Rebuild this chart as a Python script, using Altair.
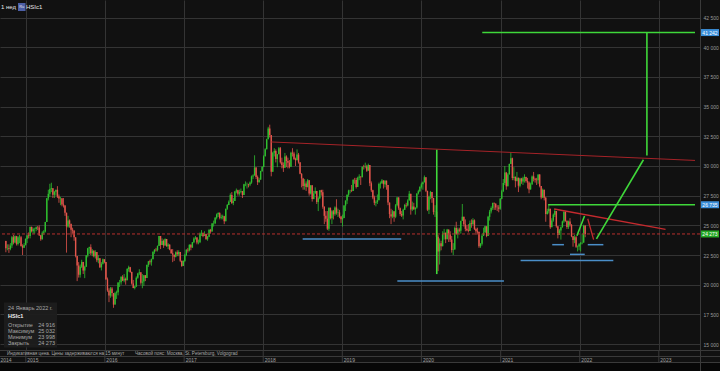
import altair as alt
import pandas as pd

FONT = "Liberation Sans"

# ---------------- weekly OHLC (HSIc1, weeks starting Monday 2014-09-29) -------------
first_open = 23678

close_2014 = [23064, 23088, 23023, 23302, 23998, 23550, 24087, 23437, 23988, 24002, 23250, 23117, 23349, 23857]
high_2014 = [23700, 23400, 23400, 23500, 24100, 24200, 24140, 24110, 24100, 24200, 24100, 23400, 23500, 23900]
low_2014 = [22730, 22900, 22680, 22900, 23100, 23400, 23500, 23300, 23300, 23500, 23200, 22500, 23100, 23300]

close_2015 = [24136, 24103, 24850, 24507, 24679, 24682, 24832, 24823, 24164, 23823, 24375, 24486, 25275, 27273,
              27653, 28060, 28133, 27577, 27822, 27993, 27424, 27260, 27280, 26760, 26663, 26064, 24901, 25415,
              25128, 24636, 24552, 23991, 22410, 21612, 20840, 21504, 21920, 21186, 21506, 22459, 23067, 23151,
              22640, 22867, 22397, 22754, 22068, 22235, 21464, 21756, 22138, 21914]
high_2015 = [24200, 24400, 24900, 24900, 24800, 24800, 24900, 24950, 25000, 24200, 24500, 24600, 25300, 27300,
             28000, 28500, 28590, 28000, 27900, 28000, 28300, 27600, 27400, 27200, 27300, 26700, 25300, 25800,
             25500, 25000, 24800, 24600, 23700, 22000, 21900, 21700, 22100, 21900, 21600, 22500, 23100, 23200,
             23400, 23000, 22900, 22900, 22700, 22500, 22200, 21900, 22200, 22100]
low_2015 = [23500, 23900, 23900, 24400, 24300, 24300, 24500, 24600, 24100, 23700, 23800, 24200, 24400, 25300,
            27100, 27400, 27800, 27300, 27300, 27500, 27300, 26900, 26700, 26600, 26500, 25800, 22700, 24800,
            24800, 24000, 24300, 23700, 22300, 20300, 20600, 20600, 21400, 20900, 20550, 21500, 22300, 22600,
            22500, 22400, 22300, 22200, 21900, 21800, 21400, 21200, 21700, 21800]

close_2016 = [20453, 19520, 19081, 19683, 19289, 18320, 19286, 19364, 20176, 20199, 20672, 20345, 20498, 20370,
              21316, 21467, 21067, 20110, 19719, 19852, 20576, 20947, 21042, 20169, 20259, 20794, 20564, 21659,
              21964, 21891, 22146, 22767, 22937, 22910, 23266, 24099, 23335, 23686, 23297, 23852, 23234, 23375,
              22955, 22643, 22531, 22344, 22723, 22565, 22760, 22020, 21575, 22001]
high_2016 = [21900, 20600, 19700, 19800, 19800, 19300, 19400, 19500, 20200, 20400, 20700, 20800, 20900, 20600,
             21400, 21600, 21500, 21100, 20400, 19900, 20700, 21000, 21300, 20800, 20900, 20800, 20800, 21700,
             22000, 22100, 22200, 22800, 23000, 23100, 23300, 24100, 23800, 23900, 23800, 23900, 23800, 23500,
             23400, 23000, 23000, 22500, 22800, 22900, 22900, 22700, 22000, 22050]
low_2016 = [20400, 19400, 18530, 18900, 19000, 18050, 18900, 18800, 19100, 19800, 20000, 20300, 20200, 20000,
            20400, 21100, 21000, 20000, 19700, 19600, 19800, 20500, 20800, 20000, 19700, 19900, 20300, 20800,
            21500, 21700, 21600, 22200, 22600, 22800, 22800, 23400, 23000, 23500, 23100, 23300, 23200, 23000,
            22900, 22600, 21900, 22000, 22300, 22400, 22400, 21900, 21500, 21600]

close_2017 = [22503, 22938, 22885, 23361, 23129, 23575, 23883, 23966, 23553, 23569, 24310, 24358, 24112, 24267,
              23825, 24042, 24615, 24476, 25156, 25174, 25640, 25925, 26030, 25626, 25671, 25765, 25341, 26389,
              26706, 26979, 27563, 26884, 27048, 27848, 27953, 27668, 27807, 27880, 27554, 28458, 28476, 28487,
              28439, 28604, 29121, 29199, 29866, 29074, 28640, 28848, 29578, 29919]
high_2017 = [22600, 23000, 23100, 23400, 23400, 23600, 24000, 24100, 24000, 23800, 24400, 24600, 24400, 24500,
             24300, 24100, 24700, 24700, 25200, 25400, 25700, 26000, 26100, 26100, 25900, 25900, 25800, 26400,
             26800, 27100, 27700, 27800, 27300, 27900, 28100, 28000, 28000, 28100, 27900, 28500, 28700, 28600,
             28500, 28700, 29200, 29300, 30900, 29900, 29200, 29000, 29600, 30000]
low_2017 = [21900, 22400, 22700, 22800, 22900, 23100, 23500, 23800, 23400, 23400, 23500, 24100, 24000, 24100,
            23800, 23700, 24000, 24300, 24500, 24900, 25100, 25500, 25700, 25500, 25500, 25500, 25100, 25400,
            26300, 26700, 27000, 26800, 26700, 27100, 27700, 27500, 27500, 27700, 27300, 27600, 28300, 28100,
            28200, 28300, 28500, 28900, 29200, 28900, 28400, 28600, 28900, 29500]

close_2018 = [30815, 31413, 32255, 33154, 32602, 29507, 31115, 31268, 30583, 30996, 31502, 30309, 30093, 29844,
              30808, 30418, 30281, 29927, 31122, 31048, 30588, 30492, 30958, 30309, 29339, 28955, 28316, 28525,
              28224, 28804, 27677, 28367, 27213, 27672, 27888, 26973, 27286, 27953, 27788, 26572, 25801, 25561,
              24717, 26486, 25601, 26183, 25927, 26506, 26063, 26094, 25753, 25504, 25626]
high_2018 = [30900, 31500, 32300, 33300, 33480, 32600, 31200, 31500, 31400, 31000, 31600, 31600, 30700, 30300,
             31100, 30900, 30700, 30500, 31200, 31500, 31200, 30700, 31400, 31100, 30300, 29400, 29000, 28900,
             28700, 28900, 28700, 28400, 28300, 27900, 28200, 27900, 27400, 27950, 28000, 28000, 26600, 26200,
             26200, 26500, 26400, 26300, 26300, 26600, 27200, 26400, 26300, 25800, 25900]
low_2018 = [29900, 30800, 31400, 32300, 32400, 29130, 29700, 30800, 30300, 29900, 31000, 30200, 29800, 29500,
            30100, 29900, 29800, 29800, 30000, 30800, 30500, 30000, 30500, 30200, 29300, 28200, 28000, 28000,
            27900, 28200, 27500, 27600, 27000, 27200, 27700, 26800, 26200, 27200, 27500, 26400, 25100, 25300,
            24600, 24540, 25500, 25100, 25500, 25800, 25900, 25700, 25600, 25200, 24900]

close_2019 = [26667, 27090, 27569, 27930, 27946, 27900, 28816, 28812, 28228, 29012, 29113, 29051, 29936, 29909,
              29963, 29605, 30082, 28550, 27946, 27353, 26901, 26965, 27118, 28473, 28543, 28775, 28471, 28765,
              28398, 26919, 25939, 25734, 26179, 25725, 26691, 27353, 26435, 25955, 25821, 26308, 26720, 26667,
              27101, 27651, 26327, 26595, 26346, 26498, 27688, 27871, 28225, 28452]
high_2019 = [26700, 27100, 27600, 28000, 28000, 28400, 28900, 29000, 29000, 29100, 29300, 29100, 29950, 30100,
             30280, 30100, 30200, 30000, 28700, 28000, 27500, 27100, 27600, 28600, 28700, 28900, 28800, 28800,
             28600, 28400, 26500, 26400, 26300, 26000, 26800, 27400, 27200, 26500, 26200, 26400, 26800, 26900,
             27200, 27900, 27600, 27000, 26900, 26500, 27700, 28000, 28300, 28600]
low_2019 = [25600, 26200, 26800, 27400, 27700, 27800, 27900, 28500, 28100, 28300, 28800, 28400, 29100, 29700,
            29800, 29500, 29600, 28300, 27800, 27200, 26700, 26600, 26800, 27300, 28100, 28500, 28100, 28200,
            28000, 26700, 25600, 25100, 25600, 25300, 25600, 26600, 26300, 25800, 25700, 25500, 26300, 26500,
            26600, 27100, 25900, 26200, 26300, 25900, 26400, 27600, 27800, 28100]

close_2020 = [28638, 29056, 27909, 26313, 27404, 27816, 27309, 26129, 26146, 24033, 22805, 23484, 23236, 24300,
              24380, 23831, 24644, 24230, 23797, 22930, 22961, 24770, 24301, 24644, 24549, 25373, 25727, 25089,
              24705, 24595, 24531, 25183, 25113, 25422, 24695, 24503, 24455, 23235, 23459, 24119, 24387, 24918,
              24107, 25713, 26157, 26451, 26894, 26835, 26506, 26498, 26387, 27231]
high_2020 = [28700, 29200, 28900, 27300, 27500, 27900, 27800, 27100, 26700, 25700, 24200, 23900, 23700, 24500,
             24700, 24300, 24700, 24300, 24500, 24100, 23500, 24900, 25300, 24800, 24800, 25400, 26800, 25700,
             25500, 25000, 25100, 25400, 25500, 25600, 25500, 24800, 24800, 24400, 23500, 24300, 24800, 24950,
             24900, 25800, 26300, 26600, 26900, 26900, 26800, 26700, 26700, 27300]
low_2020 = [28000, 28600, 27800, 26200, 25950, 27200, 26900, 25900, 25700, 23500, 21140, 21700, 22900, 23700,
            23800, 23500, 23900, 23600, 23600, 22700, 22500, 23300, 24200, 23900, 24400, 24300, 25600, 24900,
            24500, 24500, 24400, 24600, 24800, 25000, 24600, 24200, 24300, 23100, 23100, 23300, 24300, 24400,
            24000, 24100, 25400, 26000, 26300, 26300, 26300, 26200, 26100, 26300]

close_2021 = [27878, 28573, 29448, 28284, 29289, 30173, 30644, 28980, 29098, 28740, 29014, 28336, 28939, 28699,
              28970, 29079, 28725, 28610, 28028, 28458, 29124, 28918, 28842, 28801, 29288, 28310, 27344, 28004,
              27321, 25961, 26179, 26391, 24849, 25407, 25901, 26205, 24920, 24192, 24575, 24837, 25330, 26126,
              25377, 24870, 25328, 25050, 24080, 23767, 23996, 23193, 23224, 23398]
high_2021 = [28000, 28900, 30000, 29500, 29400, 30200, 31180, 30700, 29900, 29100, 29500, 29000, 29000, 29000,
             29100, 29300, 29100, 29000, 28700, 28600, 29200, 29500, 29000, 29000, 29300, 29300, 28300, 28100,
             28000, 27400, 26400, 26700, 26300, 25600, 26000, 26400, 26000, 24900, 24700, 24900, 25400, 26200,
             26200, 25400, 25400, 25600, 25100, 24100, 24200, 24100, 23300, 23500]
low_2021 = [27200, 27800, 28400, 28000, 28300, 29300, 30400, 28800, 28800, 28200, 28700, 27800, 28200, 28500,
            28400, 28600, 28600, 28100, 27700, 28000, 28400, 28700, 28600, 28400, 28500, 28200, 27200, 27300,
            27100, 25300, 25900, 26000, 24700, 24900, 25300, 25700, 24800, 23900, 24200, 23800, 24800, 25200,
            25300, 24700, 24700, 24900, 24000, 23200, 23500, 23100, 22800, 22900]

close_2022 = [23493, 23542, 24966, 24273]
high_2022 = [23600, 24300, 25050, 25032]
low_2022 = [22800, 23400, 23900, 23998]

closes = close_2014 + close_2015 + close_2016 + close_2017 + close_2018 + close_2019 + close_2020 + close_2021 + close_2022
highs = high_2014 + high_2015 + high_2016 + high_2017 + high_2018 + high_2019 + high_2020 + high_2021 + high_2022
lows = low_2014 + low_2015 + low_2016 + low_2017 + low_2018 + low_2019 + low_2020 + low_2021 + low_2022

# ---------------- axis ticks / labels ----------------
years = [2015, 2016, 2017, 2018, 2019, 2020, 2021, 2022, 2023]
price_ticks = [15000, 17500, 20000, 22500, 25000, 27500, 30000, 32500, 35000, 37500, 40000, 42500]

# ---------------- drawn annotations (segments) ----------------
seg_x1 = ["2018-02-07", "2020-03-12", "2018-07-02", "2019-09-12", "2021-04-03", "2021-08-27", "2021-11-17",
          "2022-02-07", "2021-09-05", "2021-08-08", "2020-10-08", "2022-11-07", "2022-03-19", "2021-12-19", "2022-02-07"]
seg_x2 = ["2023-06-17", "2020-03-12", "2019-09-30", "2021-01-16", "2022-06-05", "2021-10-20", "2022-01-24",
          "2022-04-20", "2023-02-01", "2023-06-17", "2023-06-17", "2022-11-07", "2022-10-22", "2022-01-23", "2022-03-06"]
seg_y1 = [32024, 31370, 23839, 20320, 22039, 23370, 22555, 23370, 26377, 26735, 41242, 41242, 23864, 24126, 25558]
seg_y2 = [30469, 20893, 23839, 20320, 22039, 23370, 22555, 23370, 24658, 26735, 41242, 30878, 30526, 25787, 23799]
seg_kind = ["resist", "green", "blue", "blue", "blue", "blue", "blue", "blue", "red", "green", "green", "green",
            "green", "green", "red"]

last_price = 24273
tag_values = [41242, 26735, 24273]
tag_kind = ["blue", "blue", "green"]

info_date = "24 Январь 2022 г."
info_symbol = "HSIc1"
info_labels = ["Открытие", "Максимум", "Минимум", "Закрыть"]
info_values = ["24 916", "25 032", "23 998", "24 273"]

# ---------------- build tables ----------------
n = len(closes)
week0 = pd.Timestamp("2014-10-01")
dates = [(week0 + pd.Timedelta(days=7 * i)).strftime("%Y-%m-%d") for i in range(n)]
opens = [first_open] + closes[:-1]
candles = pd.DataFrame({
    "date": dates,
    "open": opens,
    "close": closes,
    "high": [max(h, o, c) for h, o, c in zip(highs, opens, closes)],
    "low": [min(l, o, c) for l, o, c in zip(lows, opens, closes)],
})
candles["dir"] = ["up" if c >= o else "down" for o, c in zip(opens, closes)]

kind_color = {"resist": "#a52328", "red": "#c42a2e", "green": "#3fd83a", "blue": "#4a8ec8"}
kind_width = {"resist": 1.0, "red": 1.3, "green": 1.6, "blue": 1.5}
segs = pd.DataFrame({"x1": seg_x1, "x2": seg_x2, "y1": seg_y1, "y2": seg_y2, "kind": seg_kind})
segs["col"] = segs["kind"].map(kind_color)
segs["sw"] = segs["kind"].map(kind_width)

tags = pd.DataFrame({"p": tag_values, "kind": tag_kind})
tags["col"] = tags["kind"].map({"blue": "#3b8fda", "green": "#25a825"})
tags["label"] = [f"{v:,}".replace(",", " ") for v in tag_values]

year_df = pd.DataFrame({"date": [f"{y}-01-01" for y in years], "label": [str(y) for y in years]})

xscale = alt.Scale(type="utc", domain=[alt.DateTime(year=2014, month=9, date=27, utc=True),
                                       alt.DateTime(year=2023, month=6, date=17, utc=True)])
yscale = alt.Scale(domain=[14918, 43564], nice=False, zero=False)
GRID = "#343434"

x_axis = alt.Axis(values=[alt.DateTime(year=y, month=1, date=1, utc=True) for y in years], grid=True,
                  gridColor=GRID, gridWidth=1, labels=False, ticks=False, domain=False, title=None)
y_axis = alt.Axis(orient="right", values=price_ticks, grid=True, gridColor=GRID, gridWidth=1,
                  labelExpr="replace(format(datum.value, ','), ',', ' ')", labelFontSize=5,
                  labelColor="#9a9a9a", labelFont=FONT, labelPadding=3, ticks=False, domain=False,
                  title=None)


def X(field):
    return alt.X(field, scale=xscale, axis=x_axis)


def Y(field):
    return alt.Y(field, scale=yscale, axis=y_axis)


dircolor = alt.Color("dir:N", scale=alt.Scale(domain=["up", "down"], range=["#2fbf2f", "#e4564c"]), legend=None)

wicks = alt.Chart(candles).mark_rule(strokeWidth=0.8).encode(
    x=X("date:T"), y=Y("low:Q"), y2="high:Q", color=dircolor,
)
bodies = alt.Chart(candles).mark_bar(size=1.4).encode(
    x=X("date:T"), y=Y("open:Q"), y2="close:Q", color=dircolor,
)

last_line = alt.Chart(pd.DataFrame({"p": [last_price]})).mark_rule(
    color="#b8302c", strokeWidth=1, strokeDash=[3, 2]
).encode(y=Y("p:Q"))

annot = alt.Chart(segs).mark_rule().encode(
    x=X("x1:T"), x2="x2:T", y=Y("y1:Q"), y2="y2:Q",
    color=alt.Color("col:N", scale=None),
    strokeWidth=alt.StrokeWidth("sw:Q", scale=None),
)

tag_box = alt.Chart(tags).mark_bar(orient="horizontal", size=7).encode(
    x=alt.value(700.5), x2=alt.value(719), y=Y("p:Q"),
    color=alt.Color("col:N", scale=None),
)
tag_txt = alt.Chart(tags).mark_text(fontSize=5, font=FONT, color="#ffffff", align="center", baseline="middle").encode(
    x=alt.value(710), y=Y("p:Q"), text="label:N"
)

year_sep = alt.Chart(year_df).mark_rule(color="#3a3a3a", strokeWidth=1).encode(
    x=X("date:T"), y=alt.value(350), y2=alt.value(362)
)
year_txt = alt.Chart(year_df).mark_text(fontSize=5, font=FONT, color="#a0a0a0", align="left",
                                        baseline="middle", dx=1.5).encode(
    x=X("date:T"), y=alt.value(359.5), text="label:N"
)


def txt(s, x, y, size=5.0, color="#a8a8a8", align="left", weight="normal"):
    return alt.Chart(pd.DataFrame({"t": [s]})).mark_text(
        align=align, baseline="middle", fontSize=size, color=color, font=FONT, fontWeight=weight
    ).encode(x=alt.value(x), y=alt.value(y), text="t:N")


def box(x1, x2, y1, y2, fill, opacity=1.0):
    return alt.Chart(pd.DataFrame({"a": [0]})).mark_rect(fill=fill, opacity=opacity).encode(
        x=alt.value(x1), x2=alt.value(x2), y=alt.value(y1), y2=alt.value(y2)
    )


def hline(y, x1=0, x2=720, color="#3a3a3a"):
    return alt.Chart(pd.DataFrame({"a": [0]})).mark_rule(color=color, strokeWidth=1).encode(
        x=alt.value(x1), x2=alt.value(x2), y=alt.value(y)
    )


layers = [
    wicks, bodies, last_line, annot, tag_box, tag_txt,
    box(0, 720, 362.5, 371, "#070707"),
    hline(350.5), hline(356.5), hline(362.5),
    alt.Chart(pd.DataFrame({"a": [0]})).mark_rule(color="#3a3a3a", strokeWidth=1).encode(
        x=alt.value(700.5), y=alt.value(0), y2=alt.value(371)),
    year_sep, year_txt,
    txt("2014", 0.5, 359.5, 5, "#a0a0a0"),
    txt("Индикативная цена. Цены задерживаются на 15 минут", 7, 353.5, 4.6),
    txt("Часовой пояс: Москва, St. Petersburg, Volgograd", 135, 353.5, 4.6),
    txt("1 нед", 1, 7, 6, "#e6e6e6"),
    box(18, 25.5, 3, 11, "#4c5fa6"),
    txt("Ru", 21.75, 7, 4, "#e6e6e6", "center"),
    txt("HSIc1", 26, 7, 6, "#e6e6e6"),
    box(4, 57, 302.5, 347.5, "#1d1d1d", 0.95),
    txt(info_date, 8, 307.5, 5.5, "#a8a8a8"),
    txt(info_symbol, 8, 316, 5.5, "#f0f0f0", weight="bold"),
]
for i, (lab, val) in enumerate(zip(info_labels, info_values)):
    yy = 324.5 + 6.2 * i
    layers.append(txt(lab, 8, yy, 5.5, "#a8a8a8"))
    layers.append(txt(val, 55, yy, 5.5, "#a8a8a8", "right"))

chart = alt.layer(*layers).properties(
    width=700, height=350,
    autosize=alt.AutoSizeParams(type="none"),
    padding={"left": 0, "top": 0, "right": 20, "bottom": 21},
    background="#111111",
).configure_view(stroke=None, fill="#111111")

chart.save("out.html", embed_options={"renderer": "svg", "actions": False})
